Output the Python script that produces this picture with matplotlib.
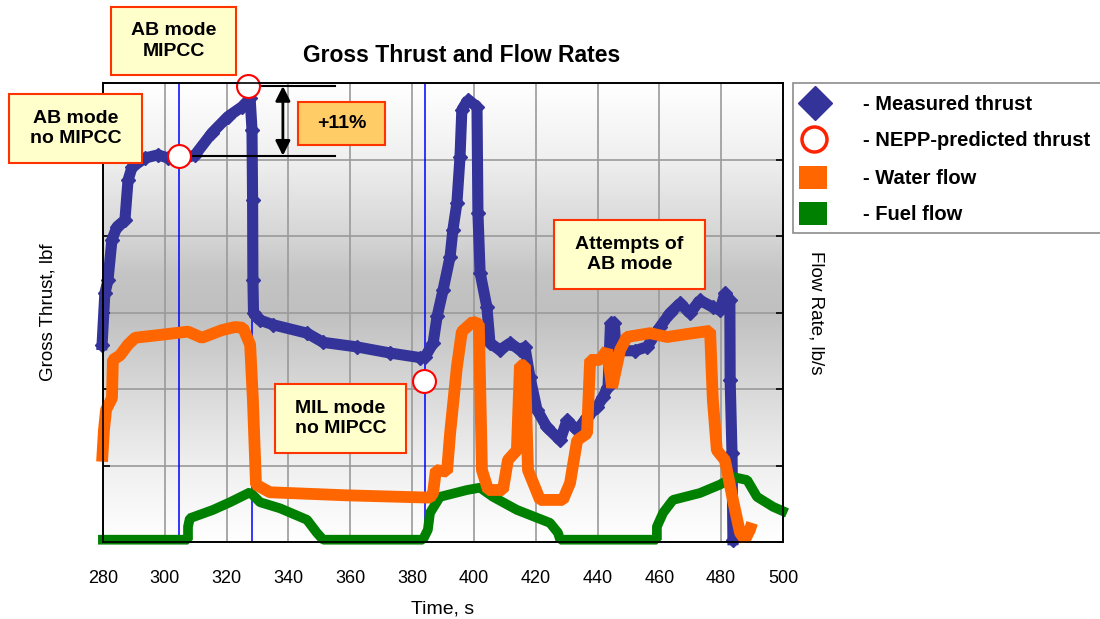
import numpy as np
import matplotlib.pyplot as plt
from matplotlib.colors import LinearSegmentedColormap
from matplotlib.patches import Rectangle

plt.rcParams['font.family'] = ['Liberation Sans', 'DejaVu Sans']

# measured gross thrust, lbf
thrust_t = [279.7, 280.6, 281.6, 282.9, 284.5, 287.1, 288.1, 289.4, 293.6, 297.8,
            301.0, 304.6, 309.8, 315.3, 320.4, 325.0, 327.6, 328.2, 328.4, 328.5,
            328.7, 329.5, 330.8, 335.0, 346.0, 351.2, 362.2, 372.9, 382.6, 384.2,
            386.8, 388.1, 390.0, 392.3, 393.2, 394.5, 395.5, 396.1, 398.1, 401.0,
            401.3, 402.0, 404.2, 405.2, 408.4, 411.7, 414.9, 416.5, 418.1, 420.4,
            423.6, 427.9, 430.1, 433.4, 436.6, 439.8, 441.8, 443.4, 444.2, 445.4,
            446.0, 452.0, 456.0, 460.2, 463.4, 466.7, 469.9, 473.1, 477.3, 479.6,
            481.2, 482.8, 482.9, 483.5, 483.8]
thrust_lbf = [5580, 6250, 6420, 6950, 7120, 7210, 7730, 7900, 8020, 8060,
              8020, 7990, 8060, 8350, 8560, 8690, 8800, 8390, 7470, 6420,
              5990, 5950, 5900, 5840, 5730, 5610, 5550, 5470, 5410, 5420,
              5600, 5950, 6290, 6730, 7080, 7430, 8030, 8650, 8780, 8690,
              7300, 6520, 6070, 5600, 5510, 5600, 5510, 5550, 5160, 4730,
              4500, 4330, 4590, 4460, 4630, 4760, 4900, 5030, 5860, 5860,
              5500, 5500, 5550, 5810, 5990, 6120, 5990, 6160, 6070, 6030,
              6250, 6160, 5120, 4160, 3030]

# NEPP-predicted thrust, lbf
pred_t = [304.6, 326.9, 384.0]
pred_lbf = [8050, 8960, 5100]

# water flow, lb/s
water_t = [279.7, 280.3, 281.0, 282.9, 283.2, 285.5, 288.1, 290.4, 299.1, 307.5,
           312.0, 318.5, 322.7, 325.3, 327.6, 328.5, 329.5, 334.0, 358.9, 385.8,
           386.8, 387.7, 391.3, 392.3, 394.5, 396.1, 399.7, 401.6, 402.6, 404.6,
           409.4, 411.0, 413.9, 414.9, 416.5, 417.5, 421.4, 428.8, 431.1, 433.4,
           436.6, 437.6, 440.8, 443.1, 444.7, 447.3, 449.5, 457.0, 462.5, 470.9,
           476.4, 477.3, 478.6, 481.2, 483.8, 486.1, 487.7, 489.3, 490.0]
water_flow = [1.05, 1.46, 1.73, 1.88, 2.38, 2.44, 2.58, 2.67, 2.71, 2.75,
              2.67, 2.77, 2.81, 2.80, 2.58, 1.86, 0.75, 0.65, 0.61, 0.58,
              0.64, 0.94, 0.92, 1.42, 2.29, 2.75, 2.88, 2.85, 0.94, 0.68,
              0.68, 1.07, 1.20, 2.31, 2.31, 0.94, 0.55, 0.55, 0.77, 1.33,
              1.42, 2.38, 2.38, 2.51, 2.02, 2.51, 2.68, 2.73, 2.68, 2.73,
              2.76, 1.86, 1.20, 1.07, 0.55, 0.12, 0.03, 0.16, 0.25]

# fuel flow, lb/s
fuel_t = [278.4, 307.5, 307.5, 308.1, 315.6, 321.1, 327.6, 330.8, 337.3, 346.0,
          349.2, 351.2, 383.5, 385.1, 385.8, 389.0, 397.8, 402.0, 406.2, 413.9,
          424.6, 427.2, 427.9, 459.2, 459.2, 461.2, 464.4, 473.1, 479.6, 483.8,
          488.4, 491.6, 496.8, 501.3]
fuel_flow = [0.03, 0.03, 0.20, 0.31, 0.42, 0.52, 0.65, 0.52, 0.44, 0.29,
             0.12, 0.03, 0.03, 0.16, 0.38, 0.59, 0.68, 0.71, 0.59, 0.42,
             0.25, 0.12, 0.03, 0.03, 0.20, 0.38, 0.55, 0.64, 0.75, 0.85,
             0.81, 0.59, 0.46, 0.38]

# mode switch times
switch_t = [304.6, 328.2, 384.2]

NAVY = '#333399'
ORANGE = '#FF6600'
GREEN = '#008000'

fig = plt.figure(figsize=(11, 6.19), dpi=100)
ax = fig.add_axes([103 / 1100, 1 - 542 / 619, 680 / 1100, 459 / 619])
ax2 = ax.twinx()

ax.set_xlim(280, 500)
ax.set_ylim(3000, 9000)
ax2.set_ylim(0, 6)

# grey background, darkest in the middle
shade = LinearSegmentedColormap.from_list('shade', [
    (0.0, '#FFFFFF'), (0.17, '#EFEFEF'), (0.33, '#D9D9D9'), (0.5, '#C0C0C0'),
    (0.58, '#C4C4C4'), (0.67, '#D6D6D6'), (0.84, '#F0F0F0'), (1.0, '#FFFFFF')])
grad = np.linspace(0, 1, 256).reshape(-1, 1)
ax.imshow(grad, cmap=shade, aspect='auto', extent=[280, 500, 3000, 9000],
          origin='lower', zorder=0)

ax.set_axisbelow(True)
ax.grid(True, color='#9A9A9A', lw=1.2)
ax.set_xticks(np.arange(280, 501, 20))
ax.set_yticks(np.arange(3000, 9001, 1000))
ax.set_yticklabels([])
ax2.set_yticks(np.arange(0, 7, 1))
ax2.set_yticklabels([])
ax.tick_params(axis='x', length=0, pad=20, labelsize=13)
ax.tick_params(axis='y', direction='in', length=5, width=1.2)
ax2.tick_params(axis='y', direction='in', length=5, width=1.2)
for a in (ax, ax2):
    for s in a.spines.values():
        s.set_color('black')
        s.set_linewidth(1.2)

for t in switch_t:
    ax.axvline(t, color='#0000FF', lw=1.1, zorder=1)

ax.plot(thrust_t, thrust_lbf, color=NAVY, lw=8, marker='D', ms=7,
        solid_joinstyle='bevel', clip_on=False, zorder=2)

ax2.plot(fuel_t, fuel_flow, color=GREEN, lw=7, solid_capstyle='butt',
         solid_joinstyle='bevel', clip_on=False)
ax2.plot(water_t, water_flow, color=ORANGE, lw=8.5, solid_capstyle='butt',
         solid_joinstyle='bevel', clip_on=False)

# +11% bracket between the two AB predictions
ax.plot([pred_t[0], 355], [pred_lbf[0]] * 2, color='black', lw=1.5, clip_on=False)
ax.plot([pred_t[1], 355], [pred_lbf[1]] * 2, color='black', lw=1.5, clip_on=False)
ax.annotate('', xy=(338.2, pred_lbf[1]), xytext=(338.2, pred_lbf[0]),
            arrowprops=dict(arrowstyle='<|-|>', color='black', lw=2,
                            mutation_scale=22, shrinkA=0, shrinkB=0),
            annotation_clip=False)
ax.plot(pred_t, pred_lbf, 'o', ms=16.5, mfc='white', mec='#FF0000', mew=1.5,
        clip_on=False, zorder=5)

ax.set_xlabel('Time, s', fontsize=14, labelpad=10)
ax.set_ylabel('Gross Thrust, lbf', fontsize=13.5, labelpad=30)
ax2.set_ylabel('Flow Rate, lb/s', fontsize=13.5, rotation=270, labelpad=14,
               va='bottom')

# overlay in pixel coordinates for title, callouts and legend
ov = fig.add_axes([0, 0, 1, 1], zorder=10)
ov.set_xlim(0, 1100)
ov.set_ylim(619, 0)
ov.axis('off')

ov.text(462, 55, 'Gross Thrust and Flow Rates', fontsize=16.5,
        fontweight='bold', ha='center', va='center')

callouts = [
    ((111, 7, 236, 75), 'AB mode\nMIPCC', '#FFFFCC'),
    ((9, 94, 142, 163), 'AB mode\nno MIPCC', '#FFFFCC'),
    ((298, 102, 385, 145), '+11%', '#FFCC66'),
    ((275, 384, 406, 453), 'MIL mode\nno MIPCC', '#FFFFCC'),
    ((554, 220, 705, 289), 'Attempts of\nAB mode', '#FFFFCC'),
]
for (x0, y0, x1, y1), label, face in callouts:
    ov.add_patch(Rectangle((x0, y0), x1 - x0, y1 - y0, facecolor=face,
                           edgecolor='#FF3300', lw=1.5))
    ov.text((x0 + x1) / 2, (y0 + y1) / 2, label, fontsize=14,
            fontweight='bold', ha='center', va='center', linespacing=1.3)

# legend
ov.add_patch(Rectangle((793, 83), 330, 150, facecolor='white',
                       edgecolor='#8C8C8C', lw=1.2, clip_on=False))
ov.plot(815, 103, 'D', ms=17, color=NAVY)
ov.plot(814, 139, 'o', ms=18, mfc='white', mec='#FF2200', mew=2.5)
ov.add_patch(Rectangle((799, 166), 28, 23, facecolor=ORANGE, edgecolor='none'))
ov.add_patch(Rectangle((799, 202), 28, 23, facecolor=GREEN, edgecolor='none'))
legend_labels = ['- Measured thrust', '- NEPP-predicted thrust',
                 '- Water flow', '- Fuel flow']
for y, label in zip([104, 140, 178, 214], legend_labels):
    ov.text(863, y, label, fontsize=14.5, fontweight='bold', va='center')

fig.savefig('out.png', dpi=100)
